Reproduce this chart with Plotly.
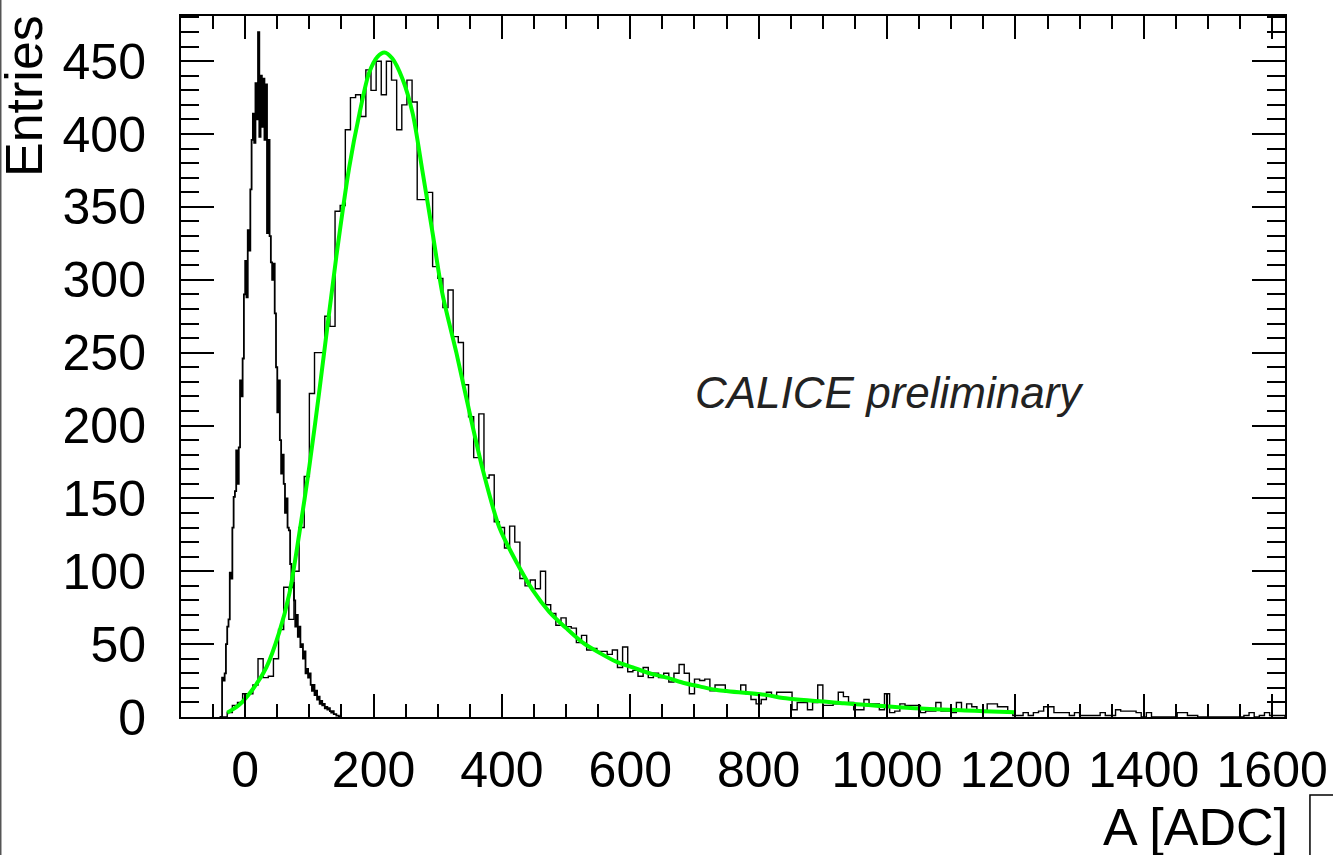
import plotly.graph_objects as go

# ---------------- data ----------------
X_RANGE = [-100, 1620]
Y_RANGE = [0, 481]
X_TICKS = [0, 200, 400, 600, 800, 1000, 1200, 1400, 1600]
Y_TICKS = [0, 50, 100, 150, 200, 250, 300, 350, 400, 450]

# signal histogram (MIP amplitude), bins of 8 ADC starting at -36
SIG_START = -36
SIG_WIDTH = 8
SIGNAL = [
    0, 3, 8, 10, 16, 16, 22, 40, 27, 28,
    40, 60, 89, 67, 100, 130, 165, 222, 250, 250,
    275, 268, 347, 351, 403, 425, 427, 412, 444, 430,
    450, 427, 450, 437, 403, 420, 437, 422, 355, 355,
    360, 309, 301, 281, 293, 261, 257, 228, 206, 178,
    208, 164, 166, 134, 130, 116, 131, 120, 95, 90,
    94, 88, 100, 77, 71, 63, 68, 62, 61, 51,
    56, 46, 47, 45, 45, 43, 46, 34, 48, 31,
    32, 28, 34, 27, 30, 27, 30, 24, 30, 36,
    30, 16, 26, 25, 26, 18, 22, 22, 17, 17,
    17, 22, 16, 12, 9, 12, 17, 14, 17, 17,
    17, 5, 10, 10, 5, 10, 22, 8, 8, 9,
    17, 14, 10, 5, 5, 12, 9, 9, 5, 16,
    3, 4, 9, 8, 8, 8, 3, 4, 4, 10,
    4, 4, 3, 10, 4, 9, 7, 4, 4, 9,
    9, 7, 7, 3, 1, 1, 3, 1, 3, 4,
    7, 7, 3, 3, 3, 1, 3, 1, 1, 1,
    1, 3, 1, 1, 5, 4, 4, 4, 3, 0,
    3, 0, 0, 0, 0, 0, 3, 3, 1, 1,
    0, 0, 0, 0, 0, 0, 0, 0, 0, 1,
    3, 0, 1, 3, 1, 1, 1,
]

# pedestal / noise histogram, bins of 2 ADC starting at -40
PED_START = -40
PED_WIDTH = 2
PEDESTAL = [
    0, 0, 27, 25, 30, 50, 62, 67, 99, 95,
    130, 151, 155, 183, 160, 185, 231, 220, 246, 290,
    313, 288, 334, 320, 362, 396, 414, 394, 435, 410,
    470, 398, 440, 405, 438, 396, 434, 332, 396, 330,
    312, 300, 311, 277, 240, 209, 231, 190, 167, 180,
    160, 140, 150, 130, 128, 105, 89, 92, 80, 62,
    70, 55, 62, 48, 50, 40, 45, 30, 33, 27,
    30, 22, 18, 22, 15, 18, 12, 14, 9, 11,
    8, 9, 6, 7, 5, 6, 4, 3, 4, 2,
    2, 1, 1, 0, 0,
]

# Landau (x) Gauss fit curve
FIT_X = [-28, -10, 10, 33, 53, 69, 84, 100, 115, 142, 162, 178, 193, 206, 217, 229,
         245, 261, 276, 292, 307, 318, 329, 345, 370, 396, 423, 448, 474, 500,
         526, 552, 578, 604, 630, 657, 682, 708, 735, 813, 838, 933, 1053, 1150, 1200]
FIT_Y = [3, 8, 18, 34, 58, 85, 125, 172, 222, 316, 377, 414, 442, 453, 456, 452,
         438, 414, 375, 332, 291, 270, 250, 218, 170, 130, 106, 87, 72, 61,
         51, 44, 38, 34, 30, 27, 23.5, 21, 18.5, 15, 13, 9.5, 5.8, 4, 3.2]

LABEL_FONT = "Liberation Sans, Arial, Helvetica, sans-serif"


def hist_outline(start, width, values):
    xs = [start]
    ys = [0]
    for i, v in enumerate(values):
        xs.append(start + i * width)
        ys.append(v)
    end = start + len(values) * width
    xs += [end, end]
    ys += [values[-1], 0]
    return xs, ys


fig = go.Figure()

px_, py_ = hist_outline(PED_START, PED_WIDTH, PEDESTAL)
fig.add_trace(go.Scatter(x=px_, y=py_, mode="lines", line=dict(color="black", width=1.8, shape="hv"),
                         showlegend=False, hoverinfo="skip"))

sx_, sy_ = hist_outline(SIG_START, SIG_WIDTH, SIGNAL)
fig.add_trace(go.Scatter(x=sx_, y=sy_, mode="lines", line=dict(color="black", width=1.4, shape="hv"),
                         showlegend=False, hoverinfo="skip"))

fig.add_trace(go.Scatter(x=FIT_X, y=FIT_Y, mode="lines",
                         line=dict(color="#00ff00", width=4, shape="spline", smoothing=0.8),
                         showlegend=False, hoverinfo="skip"))

fig.update_layout(
    width=1333, height=855, autosize=False,
    margin=dict(l=181, r=48, t=16, b=138, autoexpand=False),
    paper_bgcolor="white", plot_bgcolor="white",
    font=dict(family=LABEL_FONT, color="black"),
    xaxis=dict(
        range=X_RANGE, tickvals=X_TICKS, ticktext=[str(v) for v in X_TICKS],
        automargin=False,
        ticks="inside", ticklen=23, tickwidth=2, tickcolor="black",
        showline=True, linewidth=2, linecolor="black", mirror="ticks",
        showgrid=False, zeroline=False,
        tickfont=dict(size=50, family=LABEL_FONT, color="black"),
        ticklabelstandoff=8,
        minor=dict(ticks="inside", ticklen=13, tickwidth=2, tickcolor="black",
                   dtick=50, tick0=0, showgrid=False),
    ),
    yaxis=dict(
        range=Y_RANGE, tickvals=Y_TICKS, ticktext=[str(v) for v in Y_TICKS],
        automargin=False,
        ticks="inside", ticklen=33, tickwidth=2, tickcolor="black",
        showline=True, linewidth=2, linecolor="black", mirror="ticks",
        showgrid=False, zeroline=False,
        tickfont=dict(size=50, family=LABEL_FONT, color="black"),
        ticklabelstandoff=23,
        minor=dict(ticks="inside", ticklen=18, tickwidth=2, tickcolor="black",
                   dtick=10, tick0=0, showgrid=False),
    ),
    annotations=[
        dict(text="Entries", xref="paper", yref="paper", x=-0.1422, y=1.0043,
             xanchor="center", yanchor="top", textangle=-90, showarrow=False,
             font=dict(size=52, family=LABEL_FONT, color="black")),
        dict(text="A [ADC]", xref="paper", yref="paper", x=1.0045, y=-0.157,
             xanchor="right", yanchor="middle", showarrow=False,
             font=dict(size=52, family=LABEL_FONT, color="black")),
        dict(text="<i>CALICE preliminary</i>", xref="x", yref="y", x=1004, y=223,
             xanchor="center", yanchor="middle", showarrow=False,
             font=dict(size=44, family=LABEL_FONT, color="#222222")),
    ],
    shapes=[
        dict(type="rect", xref="paper", yref="paper", x0=1.0226, x1=1.08, y0=-0.1113, y1=-0.26,
             line=dict(color="black", width=1.5), fillcolor="rgba(0,0,0,0)"),
        dict(type="line", xref="paper", yref="paper", x0=-0.1635, x1=-0.1635, y0=-0.3, y1=1.1,
             line=dict(color="#555555", width=2)),
    ],
)

fig.write_html(
    "out.html",
    config={"displayModeBar": False, "responsive": False},
    post_script="document.body.style.margin='0';document.body.style.overflow='hidden';",
)
